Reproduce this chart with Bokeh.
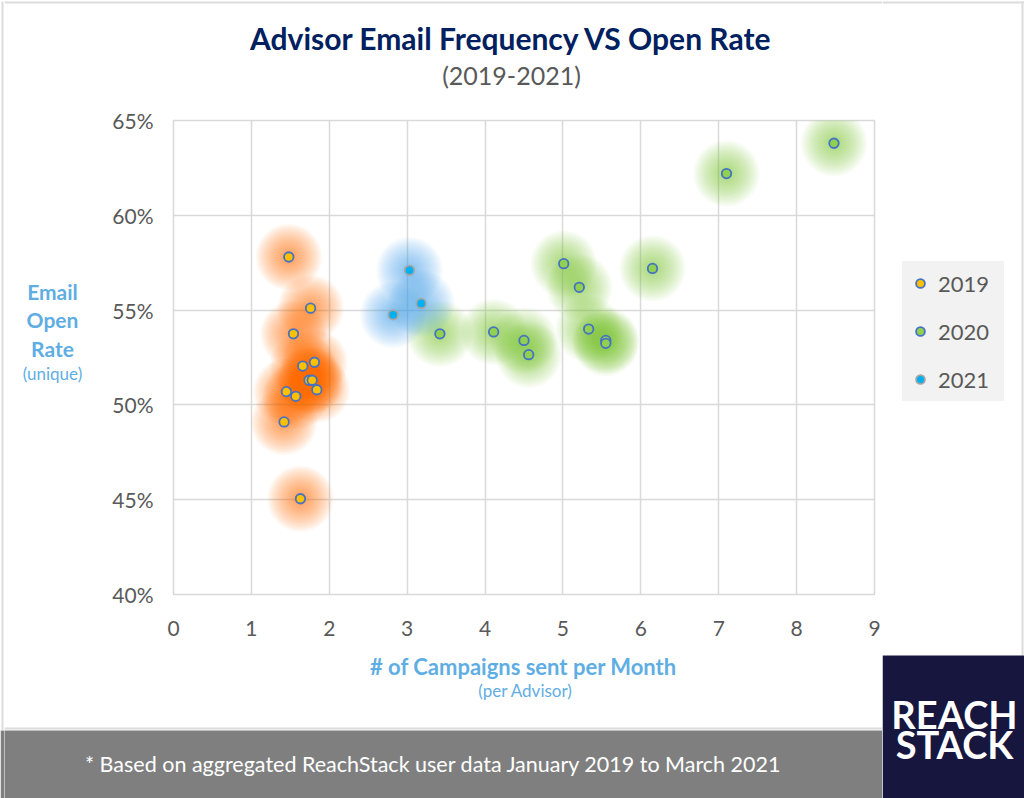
from bokeh.plotting import figure
from bokeh.layouts import row, column
from bokeh.models import (Label, BoxAnnotation, Legend, LegendItem, FixedTicker,
                          PrintfTickFormatter, Range1d)
from bokeh.embed import file_html
from bokeh.resources import INLINE

# ---------------- data ----------------
x_2019 = [1.48, 1.76, 1.54, 1.66, 1.81, 1.74, 1.78, 1.84, 1.45, 1.57, 1.42, 1.63]
y_2019 = [57.8, 55.1, 53.75, 52.05, 52.25, 51.3, 51.3, 50.8, 50.7, 50.45, 49.1, 45.05]
x_2020 = [3.42, 4.11, 4.50, 4.56, 5.01, 5.21, 5.33, 5.55, 5.55, 6.15, 7.10, 8.48]
y_2020 = [53.75, 53.85, 53.4, 52.65, 57.45, 56.2, 54.0, 53.4, 53.25, 57.2, 62.2, 63.8]
x_2021 = [3.03, 3.18, 2.82]
y_2021 = [57.1, 55.35, 54.75]

x_ticks = [0, 1, 2, 3, 4, 5, 6, 7, 8, 9]
y_ticks = [40, 45, 50, 55, 60, 65]
years = ["2019", "2020", "2021"]

title_text = "Advisor Email Frequency VS Open Rate"
subtitle_text = "(2019-2021)"
ylabel_lines = ["Email", "Open", "Rate"]
ylabel_sub = "(unique)"
xlabel_text = "# of Campaigns sent per Month"
xlabel_sub = "(per Advisor)"
footer_text = "* Based on aggregated ReachStack user data January 2019 to March 2021"
logo_lines = ["REACH", "STACK"]

FONT = "Lato"
AXC = "#5FAEE3"
GREY = "#595959"
EDGE = "#DCDCDC"
FOOT_BG = "#7F7F7F"

# ---------------- layout sizes (page is 1024 x 798) ----------------
STRIP_W = 4          # left page edge strip
LEFT_W = 878         # main column width (page x 4..882)
RIGHT_W = 142        # logo / legend column (page x 882..1024)
TOTAL_H = 798
MAIN_TOP = 14
TITLE_H = 120 - MAIN_TOP
YLAB_W = 92
FRAME_W, FRAME_H = 701, 474
MAIN_BOTTOM = 56
MAIN_W = LEFT_W - YLAB_W
MAIN_H = MAIN_TOP + FRAME_H + MAIN_BOTTOM
FOOT_H = 68
XLAB_H = TOTAL_H - TITLE_H - MAIN_H - FOOT_H
X0 = STRIP_W         # page x of the main column


def blank(w, h, bg="white", yr=None):
    f = figure(width=w, height=h, output_backend="svg", toolbar_location=None,
               x_range=Range1d(0, w), y_range=Range1d(0, yr if yr else h),
               x_axis_location=None, y_axis_location=None, min_border=0)
    f.min_border_left = f.min_border_right = f.min_border_top = f.min_border_bottom = 0
    f.grid.visible = False
    f.outline_line_color = None
    f.background_fill_color = bg
    f.border_fill_color = bg
    return f


def txt(f, text, x, y, size, color, bold=False):
    f.add_layout(Label(x=x, y=y, text=text, text_font=FONT, text_font_size=f"{size}px",
                       text_color=color, text_font_style="bold" if bold else "normal",
                       text_align="center", text_baseline="middle"))


def box(f, l, r, b, t, color):
    f.add_layout(BoxAnnotation(left=l, right=r, bottom=b, top=t, fill_color=color,
                               fill_alpha=1, line_color=None))


# ---------------- left page edge ----------------
strip_fig = blank(STRIP_W, TOTAL_H)
box(strip_fig, 0, STRIP_W, 0, FOOT_H, FOOT_BG)
box(strip_fig, 1, 3, FOOT_H, TOTAL_H - 1, EDGE)

# ---------------- title ----------------
title_fig = blank(LEFT_W, TITLE_H)
box(title_fig, 0, LEFT_W, TITLE_H - 3, TITLE_H - 1, EDGE)
txt(title_fig, title_text, 511 - X0, TITLE_H - 37, 30, "#002060", bold=True)
txt(title_fig, subtitle_text, 511 - X0, TITLE_H - 74, 25, GREY)

# ---------------- y label (its frame lines up with the chart frame: page y 120..594) ----------------
ylab_fig = blank(YLAB_W, MAIN_H, yr=FRAME_H)
for t, yy in zip(ylabel_lines, [291, 319, 348]):
    txt(ylab_fig, t, 52 - X0, FRAME_H - (yy - 120), 21, AXC, bold=True)
txt(ylab_fig, ylabel_sub, 52 - X0, FRAME_H - (373 - 120), 17, AXC)

# ---------------- main chart ----------------
p = figure(width=MAIN_W, height=MAIN_H, output_backend="svg", toolbar_location=None,
           x_range=Range1d(0, 9), y_range=Range1d(40, 65))
p.min_border_left = MAIN_W - FRAME_W - 8
p.min_border_right = 8
p.min_border_top = MAIN_TOP
p.min_border_bottom = MAIN_BOTTOM
p.background_fill_color = "white"
p.border_fill_color = "white"
p.outline_line_color = "#D9D9D9"
p.outline_line_width = 1.5

for ax in (p.xaxis[0], p.yaxis[0]):
    ax.axis_line_color = None
    ax.major_tick_line_color = None
    ax.minor_tick_line_color = None
    ax.major_tick_out = 0
    ax.major_label_text_font = FONT
    ax.major_label_text_font_size = "21px"
    ax.major_label_text_color = GREY
p.xaxis.ticker = FixedTicker(ticks=x_ticks)
p.yaxis.ticker = FixedTicker(ticks=y_ticks)
p.yaxis.formatter = PrintfTickFormatter(format="%d%%")
p.xaxis.major_label_standoff = 26
p.yaxis.major_label_standoff = 20
p.xgrid.ticker = FixedTicker(ticks=x_ticks)
p.ygrid.ticker = FixedTicker(ticks=y_ticks)
p.grid.grid_line_color = "#D9D9D9"
p.grid.grid_line_width = 1.5

glow = [("#FF7400", x_2019, y_2019), ("#7CCB3A", x_2020, y_2020), ("#4FA9F2", x_2021, y_2021)]
sizes = [66, 62, 58, 54, 50, 46, 42, 38, 34, 30, 26, 22, 18, 14]
for col, xs, ys in glow:
    for s in sizes:
        p.scatter(xs, ys, size=s, fill_color=col, fill_alpha=0.055, line_color=None)

dot_styles = [dict(fill_color="#FFC000", line_color="#4472C4"),
              dict(fill_color="#92D050", line_color="#4472C4"),
              dict(fill_color="#00B0F0", line_color="#A5A5A5")]
for (xs, ys), st in zip([(x_2019, y_2019), (x_2020, y_2020), (x_2021, y_2021)], dot_styles):
    p.scatter(xs, ys, size=9.5, line_width=1.8, **st)

# ---------------- x label ----------------
xlab_fig = blank(LEFT_W, XLAB_H)
box(xlab_fig, 0, LEFT_W, 1, 3, EDGE)
txt(xlab_fig, xlabel_text, 523 - X0, XLAB_H - 16, 22, AXC, bold=True)
txt(xlab_fig, xlabel_sub, 525 - X0, XLAB_H - 40, 17, AXC)

# ---------------- footer ----------------
foot_fig = blank(LEFT_W, FOOT_H, bg=FOOT_BG)
txt(foot_fig, footer_text, 433 - X0, FOOT_H - 33, 21.5, "white")

# ---------------- right column: legend + logo ----------------
right_fig = blank(RIGHT_W, TOTAL_H)
box(right_fig, 0, RIGHT_W, TOTAL_H - 3, TOTAL_H - 1, EDGE)
box(right_fig, 139, 141, 143, TOTAL_H - 1, EDGE)
leg_items = []
for yr, st in zip(years, dot_styles):
    r = right_fig.scatter(x=[float("nan")], y=[float("nan")], size=9.5, line_width=1.8, **st)
    leg_items.append(LegendItem(label=yr, renderers=[r]))
legend = Legend(items=leg_items, location=(20, 397), orientation="vertical")
legend.background_fill_color = "#F2F2F2"
legend.background_fill_alpha = 1
legend.border_line_color = None
legend.label_text_font = FONT
legend.label_text_font_size = "22px"
legend.label_text_color = GREY
legend.glyph_width = 36
legend.glyph_height = 22
legend.label_standoff = 0
legend.label_width = 66
legend.label_height = 44
legend.spacing = 4
legend.padding = 0
legend.margin = 0
right_fig.add_layout(legend)

box(right_fig, 0, RIGHT_W, 0, 143, "#16163F")
txt(right_fig, logo_lines[0], 72, 85, 38, "white", bold=True)
txt(right_fig, logo_lines[1], 72, 55, 38, "white", bold=True)

layout = row(strip_fig,
             column(title_fig, row(ylab_fig, p, spacing=0), xlab_fig, foot_fig, spacing=0),
             right_fig, spacing=0)

open("out.html", "w").write(file_html(layout, INLINE))
